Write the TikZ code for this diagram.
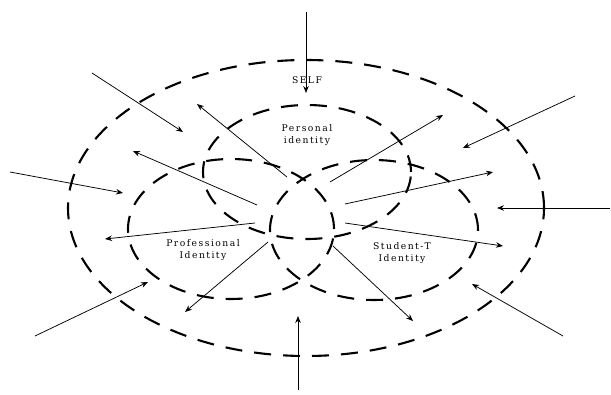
\documentclass[tikz,border=0pt]{standalone}
\usepackage{fontspec}
\newfontfamily\labelfont[LetterSpace=16]{DejaVu Serif}
\usetikzlibrary{arrows.meta,shapes.geometric}
\begin{document}
\begin{tikzpicture}[x=1pt,y=-1pt,
    ring/.style={ellipse,draw,line width=2.1pt,dash pattern=on 17pt off 12pt,inner sep=0pt},
    label/.style={align=center,font=\labelfont\fontsize{9.2}{12.5}\selectfont},
    arrow/.style={draw,line width=0.75pt,-{Stealth[length=7pt,width=5.5pt]}}]
  \useasboundingbox (0,0) rectangle (611,394);

  \begin{scope}[every node/.style={ring}]
    \node[minimum width=476pt,minimum height=296pt] (self) at (306,208) {};
    \node[minimum width=208pt,minimum height=134pt] (pers) at (307,172) {};
    \node[minimum width=206pt,minimum height=140pt] (prof) at (231,229) {};
    \node[minimum width=208pt,minimum height=140pt] (stud) at (374,230) {};
  \end{scope}

  \begin{scope}[every node/.style={label}]
    \node (selfL) at (307,80)  {SELF};
    \node (persL) at (307,135) {Personal\\identity};
    \node (profL) at (203,250) {Professional\\Identity};
    \node (studL) at (402,253) {Student-T\\Identity};
  \end{scope}

  % tails
  \coordinate (t1)  at (306,12);
  \coordinate (t2)  at (298,390);
  \coordinate (t3)  at (92,73);
  \coordinate (t4)  at (287,177);
  \coordinate (t5)  at (257,205);
  \coordinate (t6)  at (10,172);
  \coordinate (t7)  at (255,223);
  \coordinate (t8)  at (268,242);
  \coordinate (t9)  at (35,336);
  \coordinate (t10) at (330,182);
  \coordinate (t11) at (575,96);
  \coordinate (t12) at (345,204);
  \coordinate (t13) at (610,208);
  \coordinate (t14) at (345,223);
  \coordinate (t15) at (333,246);
  \coordinate (t16) at (563,336);
  % heads
  \coordinate (h1)  at (306,93);
  \coordinate (h2)  at (298,316);
  \coordinate (h3)  at (183,132);
  \coordinate (h4)  at (197,104);
  \coordinate (h5)  at (133,151);
  \coordinate (h6)  at (123,193);
  \coordinate (h7)  at (105,239);
  \coordinate (h8)  at (185,312);
  \coordinate (h9)  at (148,282);
  \coordinate (h10) at (443,115);
  \coordinate (h11) at (463,148);
  \coordinate (h12) at (493,172);
  \coordinate (h13) at (497,208);
  \coordinate (h14) at (503,246);
  \coordinate (h15) at (413,321);
  \coordinate (h16) at (472,284);

  \begin{scope}[every edge/.style={arrow}]
    \path (t1)  edge (h1);
    \path (t2)  edge (h2);
    \path (t3)  edge (h3);
    \path (t4)  edge (h4);
    \path (t5)  edge (h5);
    \path (t6)  edge (h6);
    \path (t7)  edge (h7);
    \path (t8)  edge (h8);
    \path (t9)  edge (h9);
    \path (t10) edge (h10);
    \path (t11) edge (h11);
    \path (t12) edge (h12);
    \path (t13) edge (h13);
    \path (t14) edge (h14);
    \path (t15) edge (h15);
    \path (t16) edge (h16);
  \end{scope}

\end{tikzpicture}
\end{document}
